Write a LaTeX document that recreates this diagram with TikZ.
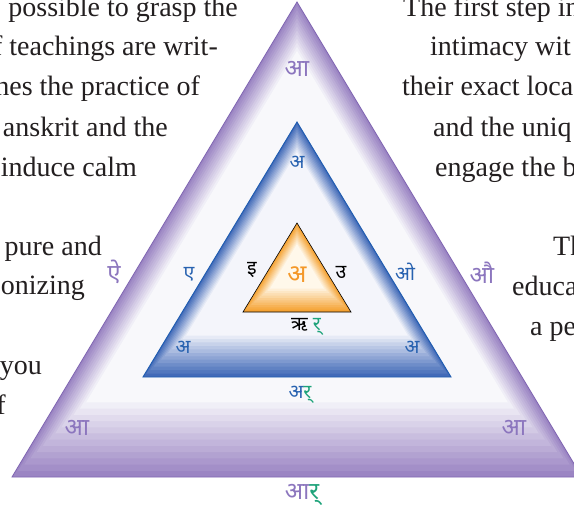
\documentclass[tikz,border=0pt]{standalone}
\usepackage{fontspec}
\setmainfont{Liberation Serif}
\newfontfamily\deva[Script=Devanagari]{Noto Sans}
\usetikzlibrary{calc}
\definecolor{ink}{RGB}{35,31,32}
\definecolor{pedge}{RGB}{155,133,195}
\definecolor{pline}{RGB}{128,102,178}
\definecolor{pinner}{RGB}{248,248,251}
\definecolor{ptext}{RGB}{140,118,190}
\definecolor{bedge}{RGB}{66,106,184}
\definecolor{bline}{RGB}{30,92,176}
\definecolor{binner}{RGB}{244,245,251}
\definecolor{btext}{RGB}{40,98,176}
\definecolor{oedge}{RGB}{245,162,50}
\definecolor{oinner}{RGB}{255,248,234}
\definecolor{otext}{RGB}{244,152,40}
\definecolor{rgreen}{RGB}{30,163,122}
\begin{document}
\begin{tikzpicture}[x=1pt,y=-1pt,
  prose/.style={inner sep=0pt,text=ink,font=\fontsize{28}{32}\selectfont},
  pl/.style={inner sep=0pt,text=ptext,font=\deva\fontsize{24}{26}\selectfont},
  bl/.style={inner sep=0pt,text=btext,font=\deva\fontsize{19.5}{22}\selectfont},
  kl/.style={inner sep=0pt,text=black,font=\deva\fontsize{19.5}{22}\selectfont}]
  \useasboundingbox (0,0) rectangle (574,511);
  \clip (0,0) rectangle (574,511);
  \fill[white] (0,0) rectangle (574,511);
  \coordinate (pA) at (297,2);   \coordinate (pL) at (12,477);
  \coordinate (pR) at (582,477); \coordinate (pC) at (297,190);
  \coordinate (bA) at (297,122); \coordinate (bL) at (143,377);
  \coordinate (bR) at (451,377); \coordinate (bC) at (297,229);
  \coordinate (oA) at (297,223); \coordinate (oL) at (243,312);
  \coordinate (oR) at (351,312); \coordinate (oC) at (297,265);
  \foreach \i in {0,...,12}{
    \pgfmathsetmacro\s{1-0.26*\i/12}
    \pgfmathtruncatemacro\c{100-100*\i/12}
    \fill[pedge!\c!pinner] ($(pC)!\s!(pA)$) -- ($(pC)!\s!(pL)$) -- ($(pC)!\s!(pR)$) -- cycle;
  }
  \draw[pline,line width=0.8pt] (pA) -- (pL) -- (pR) -- cycle;
  \foreach \i in {0,...,12}{
    \pgfmathsetmacro\s{1-0.28*\i/12}
    \pgfmathtruncatemacro\c{100-100*\i/12}
    \fill[bedge!\c!binner] ($(bC)!\s!(bA)$) -- ($(bC)!\s!(bL)$) -- ($(bC)!\s!(bR)$) -- cycle;
  }
  \draw[bline,line width=0.9pt] (bA) -- (bL) -- (bR) -- cycle;
  \foreach \i in {0,...,10}{
    \pgfmathsetmacro\s{1-0.5*\i/10}
    \pgfmathtruncatemacro\c{100-100*\i/10}
    \fill[oedge!\c!oinner] ($(oC)!\s!(oA)$) -- ($(oC)!\s!(oL)$) -- ($(oC)!\s!(oR)$) -- cycle;
  }
  \draw[black,line width=0.6pt] (oA) -- (oL) -- (oR) -- cycle;
  \node[pl] (aTop) at (297,69) {आ};
  \node[pl] (aLeft) at (77,428) {आ};
  \node[pl] (aRight) at (514,428) {आ};
  \node[pl] (ai) at (114,272) {ऐ};
  \node[pl] (au) at (482,273) {औ};
  \node[pl] (aar) at (302,495) {आ\textcolor{rgreen}{र्}};
  \node[bl] (bTop) at (297,162) {अ};
  \node[bl] (bLeft) at (183,347) {अ};
  \node[bl] (bRight) at (412,347) {अ};
  \node[bl] (e) at (189,274) {ए};
  \node[bl] (o) at (405,272) {ओ};
  \node[bl] (ar) at (300,395) {अ\textcolor{rgreen}{र्}};
  \node[inner sep=0pt,text=otext,font=\deva\fontsize{25}{27}\selectfont] (a) at (297,275) {अ};
  \node[kl] (i) at (252,270) {इ};
  \node[kl] (u) at (341,272) {उ};
  \node[kl] (ri) at (306,327) {ऋ \textcolor{rgreen}{र्}};
  \node[prose,anchor=base east] (l1) at (238,17) {possible to grasp the};
  \node[prose,anchor=base east] (l2) at (218,56) {f teachings are writ-};
  \node[prose,anchor=base east] (l3) at (200,96) {hes the practice of};
  \node[prose,anchor=base east] (l4) at (168,136) {anskrit and the};
  \node[prose,anchor=base east] (l5) at (137,176) {induce calm};
  \node[prose,anchor=base east] (l6) at (102,255) {pure and};
  \node[prose,anchor=base east] (l7) at (85,294) {onizing};
  \node[prose,anchor=base east] (l8) at (42,374) {you};
  \node[prose,anchor=base east] (l9) at (6,414) {f};
  \node[prose,anchor=base west] (r1) at (403,17) {The first step in};
  \node[prose,anchor=base west] (r2) at (430,56) {intimacy wit};
  \node[prose,anchor=base west] (r3) at (402,96) {their exact loca};
  \node[prose,anchor=base west] (r4) at (433,136) {and the uniq};
  \node[prose,anchor=base west] (r5) at (435,176) {engage the b};
  \node[prose,anchor=base west] (r6) at (553,255) {Th};
  \node[prose,anchor=base west] (r7) at (512,295) {educa};
  \node[prose,anchor=base west] (r8) at (530,335) {a pe};
\end{tikzpicture}
\end{document}
